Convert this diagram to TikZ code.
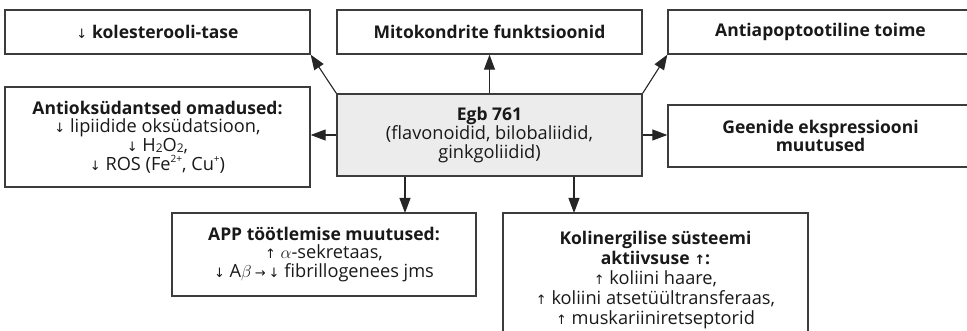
\documentclass[tikz,border=0pt]{standalone}
\usepackage{fontspec}
\setmainfont{Open Sans}
\newfontfamily\symfont{DejaVu Sans}
\usetikzlibrary{arrows.meta}
\newcommand{\dn}{{\symfont\fontsize{13}{13}\selectfont ↓}}
\newcommand{\upa}{{\symfont\fontsize{13}{13}\selectfont ↑}}
\newcommand{\rta}{{\symfont\fontsize{13}{13}\selectfont →}}
\newcommand{\supx}[1]{\raisebox{0.75ex}{\fontsize{10}{10}\selectfont #1}}
\newcommand{\subx}[1]{\raisebox{-0.1ex}{\fontsize{12}{12}\selectfont #1}}
\newcommand{\bt}[1]{{\fontsize{17.5}{18.7}\selectfont\bfseries #1}}
\definecolor{boxline}{HTML}{3C3C3C}
\definecolor{egbfill}{HTML}{ECECEC}
\begin{document}
\begin{tikzpicture}[x=1pt,y=-1pt,
  box/.style={draw=boxline, line width=1.3pt, rectangle, align=center, inner sep=0pt,
    font=\fontsize{18.2}{18.7}\selectfont, text=black!90},
  txt/.style={align=center, inner sep=0pt, font=\fontsize{18.2}{19.8}\selectfont, text=black!90},
  arr/.style={-{Triangle[length=15pt,width=11pt]}, line width=1.1pt, draw=black!85}]
\useasboundingbox (0,0) rectangle (967,331);
\clip (0,0) rectangle (967,331);
\node[box, minimum width=305pt, minimum height=44pt] (chol) at (157.5,32) {\dn\ \bt{kolesterooli-tase}};
\node[box, minimum width=305pt, minimum height=44pt] (mito) at (489.5,32) {\bt{Mitokondrite funktsioonid}};
\node[box, minimum width=305pt, minimum height=44pt] (apop) at (820.5,32) {\bt{Antiapoptootiline toime}};
\node[box, minimum width=305pt, minimum height=100pt] (antiox) at (157.5,137)
  {\bt{Antioksüdantsed omadused:}\\ \dn\ lipiidide oksüdatsioon,\\ \dn\ H\subx{2}O\subx{2},\\ \dn\ ROS (Fe\supx{2+}, Cu\supx{+})};
\node[box, fill=egbfill, minimum width=305pt, minimum height=82pt] (egb) at (489.5,135)
  {\bt{Egb 761}\\(flavonoidid, bilobaliidid,\\ginkgoliidid)};
\node[box, minimum width=305pt, minimum height=62pt] (gene) at (820.5,136)
  {\bt{Geenide ekspressiooni}\\\bt{muutused}};
\node[box, minimum width=304pt, minimum height=83pt] (app) at (324,254.5)
  {\bt{APP töötlemise muutused:}\\ \upa\ $\alpha$-sekretaas,\\ \dn\ A$\beta$\,\rta\,\dn\ fibrillogenees jms};
\node[box, minimum width=305pt, minimum height=130pt] (kol) at (655.5,278) {};
\node[txt] (koltxt) at (655.5,280)
  {\bt{Kolinergilise süsteemi}\\\bt{aktiivsuse \upa:}\\ \upa\ koliini haare,\\ \upa\ koliini atsetüültransferaas,\\ \upa\ muskariiniretseptorid};
\coordinate (d1) at (405,213);
\coordinate (d2) at (574,213);
\draw[arr] (egb.north) -- (mito.south);
\draw[arr] (egb.north west) -- (chol.south east);
\draw[arr] (egb.north east) -- (apop.south west);
\draw[arr] (egb.west) -- (egb.west -| antiox.east);
\draw[arr] (egb.east) -- (egb.east -| gene.west);
\draw[arr] (egb.south -| d1) -- (d1);
\draw[arr] (egb.south -| d2) -- (d2);
\end{tikzpicture}
\end{document}
